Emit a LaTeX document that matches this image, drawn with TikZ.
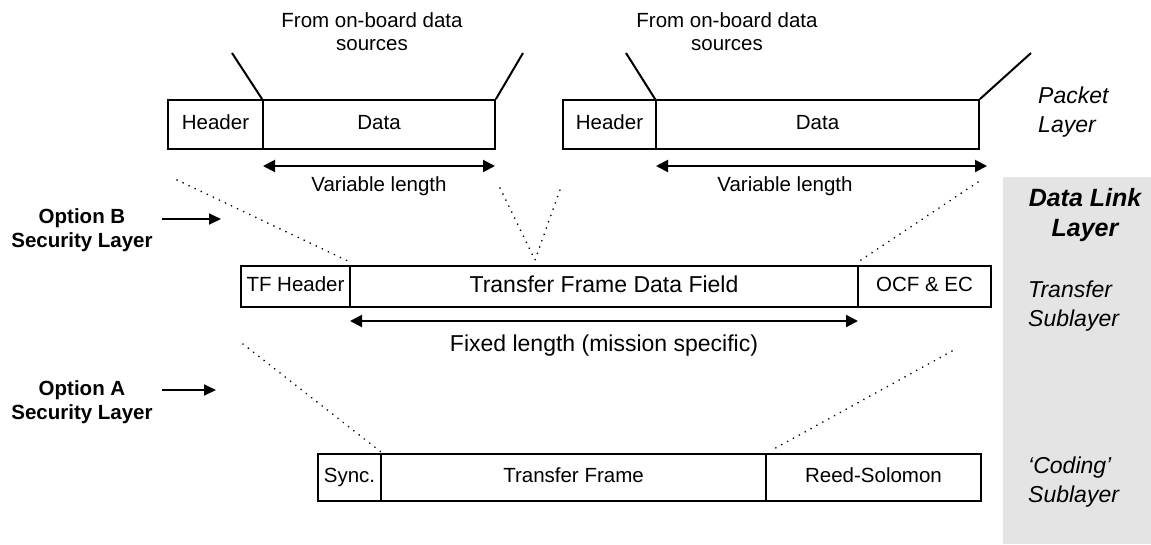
\documentclass[tikz,border=0pt]{standalone}
\usepackage{fontspec}
\setmainfont{Liberation Sans}
\usetikzlibrary{arrows.meta}
\definecolor{sidegray}{HTML}{E4E4E4}
\begin{document}
\begin{tikzpicture}[x=1pt,y=-1pt,
  fieldbox/.style={draw,line width=1.8pt,inner sep=0pt,text height=15pt,text depth=4.3pt,font=\fontsize{20.5}{24}\selectfont},
  pbox/.style={fieldbox,minimum height=49pt},
  tbox/.style={fieldbox,minimum height=41pt},
  cbox/.style={fieldbox,minimum height=47pt},
  lbl/.style={inner sep=0pt,font=\fontsize{20.5}{23}\selectfont,align=center},
  biglbl/.style={inner sep=0pt,font=\fontsize{23}{27}\selectfont,align=center},
  optlbl/.style={inner sep=0pt,font=\bfseries\fontsize{20.5}{24}\selectfont,align=center},
  sidelbl/.style={inner sep=0pt,font=\itshape\fontsize{23}{29}\selectfont,align=left,anchor=west},
  dimarrow/.style={line width=2pt,{Triangle[length=12pt,width=12pt]}-{Triangle[length=12pt,width=12pt]}},
  ptrarrow/.style={line width=1.8pt,-{Triangle[length=12pt,width=11pt]}},
  feed/.style={line width=2pt},
  dots/.style={line width=1.8pt,line cap=round,dash pattern=on 0.1pt off 6.6pt}
]
\useasboundingbox (0,0) rectangle (1151,544);
% grey band
\fill[sidegray] (1003,177) rectangle (1151,544);

% ---- packet layer ----
\node[pbox,minimum width=95pt]  (h1) at (215.5,124.5) {Header};
\node[pbox,minimum width=232pt] (d1) at (379,124.5) {Data};
\node[pbox,minimum width=93pt]  (h2) at (609.5,124.5) {Header};
\node[pbox,minimum width=323pt] (d2) at (817.5,124.5) {Data};

\node[lbl] (src1) at (372,32) {From on-board data\\sources};
\node[lbl] (src2) at (727,32) {From on-board data\\sources};

\coordinate (s1l) at (232,53);
\coordinate (s1r) at (523,53);
\coordinate (s2l) at (626,53);
\coordinate (s2r) at (1031,53);
\draw[feed] (s1l) -- (d1.north west);
\draw[feed] (s1r) -- (d1.north east);
\draw[feed] (s2l) -- (d2.north west);
\draw[feed] (s2r) -- (d2.north east);

\coordinate (a1l) at (263,166);
\coordinate (a1r) at (495,166);
\coordinate (a2l) at (656,166);
\coordinate (a2r) at (987,166);
\draw[dimarrow] (a1l) -- (a1r);
\draw[dimarrow] (a2l) -- (a2r);
\node[lbl] (vl1) at (379,186) {Variable length};
\node[lbl] (vl2) at (785,186) {Variable length};

% ---- transfer sublayer ----
\node[tbox,minimum width=109pt] (tfh) at (295.5,286.5) {TF Header};
\node[tbox,minimum width=508pt,font=\fontsize{23}{27}\selectfont,text height=16.5pt,text depth=4.8pt] (tfd) at (604,286.5) {Transfer Frame Data Field};
\node[tbox,minimum width=133pt] (ocf) at (924.5,286.5) {OCF \& EC};

\coordinate (fxl) at (350,321);
\coordinate (fxr) at (858,321);
\draw[dimarrow] (fxl) -- (fxr);
\node[biglbl] (fxt) at (604,346) {Fixed length (mission specific)};

% ---- coding sublayer ----
\node[cbox,minimum width=63pt]  (sync) at (349.5,477.5) {Sync.};
\node[cbox,minimum width=385pt] (tfr)  at (573.5,477.5) {Transfer Frame};
\node[cbox,minimum width=215pt] (rs)   at (873.5,477.5) {Reed-Solomon};

% ---- dotted mapping lines ----
\coordinate (p1) at (177,180);
\coordinate (p1e) at (350,262);
\coordinate (vL) at (500,188);
\coordinate (vB) at (535,260);
\coordinate (vR) at (561,187);
\coordinate (p2) at (978,182);
\coordinate (p2e) at (858,262);
\coordinate (q1) at (243,344);
\coordinate (q1e) at (381,452);
\coordinate (q2) at (952,351);
\coordinate (q2e) at (772,450);
\draw[dots] (p1) -- (p1e);
\draw[dots] (vL) -- (vB) -- (vR);
\draw[dots] (p2) -- (p2e);
\draw[dots] (q1) -- (q1e);
\draw[dots] (q2) -- (q2e);

% ---- security options ----
\node[optlbl] (optb) at (82,230) {Option B\\Security Layer};
\coordinate (obs) at (162,219);
\coordinate (obe) at (221,219);
\draw[ptrarrow] (obs) -- (obe);
\node[optlbl] (opta) at (82,402) {Option A\\Security Layer};
\coordinate (oas) at (162,390);
\coordinate (oae) at (216,390);
\draw[ptrarrow] (oas) -- (oae);

% ---- side labels ----
\node[sidelbl] (pkl) at (1038,112) {Packet\\Layer};
\node[inner sep=0pt,font=\bfseries\itshape\fontsize{25}{30}\selectfont,align=center] (dll) at (1085,215) {Data Link\\Layer};
\node[sidelbl] (tsl) at (1028,306) {Transfer\\Sublayer};
\node[sidelbl] (csl) at (1028,482) {`Coding'\\Sublayer};
\end{tikzpicture}
\end{document}
